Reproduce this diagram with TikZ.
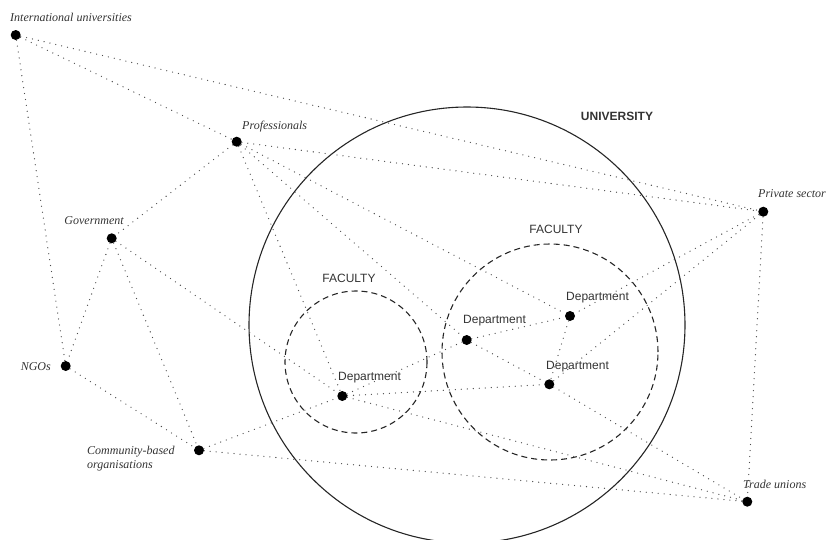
\documentclass[tikz,border=0pt]{standalone}
\usepackage{fontspec}
\setmainfont{Liberation Serif}
\setsansfont{Liberation Sans}
\usetikzlibrary{positioning}

\begin{document}
\begin{tikzpicture}[x=1pt, y=-1pt,
    member/.style={circle, fill=black, inner sep=0pt, minimum size=10pt},
    tie/.style={black!70, line width=1.3pt, line cap=round, dash pattern=on 0pt off 6pt},
    faculty/.style={black!85, line width=1.1pt, dash pattern=on 6pt off 4pt},
    outside/.style={font=\itshape\fontsize{12}{14}\selectfont, text=black!80, inner sep=0pt},
    inside/.style={font=\sffamily\fontsize{12}{14}\selectfont, text=black!80, inner sep=0pt}]
    \useasboundingbox (0,0) rectangle (839,539);
    \clip (0,0) rectangle (839,539);

    % University and the two faculties
    \draw[black!85, line width=1.1pt] (467,325) circle[radius=218pt];
    \draw[faculty] (356,362) circle[radius=71pt];
    \draw[faculty] (550,352) circle[radius=108pt];
    \node[inside, font=\sffamily\bfseries\fontsize{12}{14}\selectfont] (uni) at (617,116) {UNIVERSITY};
    \node[inside] (facl) at (349,278) {FACULTY};
    \node[inside] (facr) at (556,229) {FACULTY};

    % Outside actors
    \node[member] (iu) at (15.7,35) {};
    \node[member] (prof) at (236.7,141.7) {};
    \node[member] (gov) at (111.7,238.3) {};
    \node[member] (ngo) at (65.7,366) {};
    \node[member] (cbo) at (199,450.3) {};
    \node[member] (ps) at (763.3,211.7) {};
    \node[member] (tu) at (747.3,501.7) {};

    % Departments
    \node[member] (d1) at (342.3,396) {};
    \node[member] (d2) at (466.7,340) {};
    \node[member] (d3) at (570,316) {};
    \node[member] (d4) at (549.3,384.3) {};

    % Labels
    \node[outside, anchor=west] (iulbl) at (10,17) {International universities};
    \node[outside, anchor=west] (proflbl) at (242,127) {Professionals};
    \node[outside, anchor=east] (govlbl) at (124,221) {Government};
    \node[outside, anchor=east] (ngolbl) at (51,367) {NGOs};
    \node[outside, anchor=west, align=left] (cbolbl) at (87,459) {Community-based\\organisations};
    \node[outside, anchor=west] (pslbl) at (758,194) {Private sector};
    \node[outside, anchor=west] (tulbl) at (743,484) {Trade unions};
    \node[inside, anchor=west] (d1lbl) at (338,378) {Department};
    \node[inside, anchor=west] (d2lbl) at (463,321) {Department};
    \node[inside, anchor=west] (d3lbl) at (566,298) {Department};
    \node[inside, anchor=west] (d4lbl) at (546,367) {Department};

    % Links from the outside
    \draw[tie] (iu) -- (prof);
    \draw[tie] (iu) -- (ps);
    \draw[tie] (iu) -- (ngo);
    \draw[tie] (prof) -- (gov);
    \draw[tie] (prof) -- (ps);
    \draw[tie] (prof) -- (d1);
    \draw[tie] (prof) -- (d2);
    \draw[tie] (prof) -- (d3);
    \draw[tie] (gov) -- (ngo);
    \draw[tie] (gov) -- (cbo);
    \draw[tie] (gov) -- (d1);
    \draw[tie] (ngo) -- (cbo);
    \draw[tie] (cbo) -- (d1);
    \draw[tie] (cbo) -- (tu);
    \draw[tie] (ps) -- (d3);
    \draw[tie] (ps) -- (d4);
    \draw[tie] (ps) -- (tu);

    % Links between departments
    \draw[tie] (d1) -- (d2);
    \draw[tie] (d1) -- (d4);
    \draw[tie] (d1) -- (tu);
    \draw[tie] (d2) -- (d3);
    \draw[tie] (d2) -- (d4);
    \draw[tie] (d3) -- (d4);
    \draw[tie] (d4) -- (tu);
\end{tikzpicture}
\end{document}
